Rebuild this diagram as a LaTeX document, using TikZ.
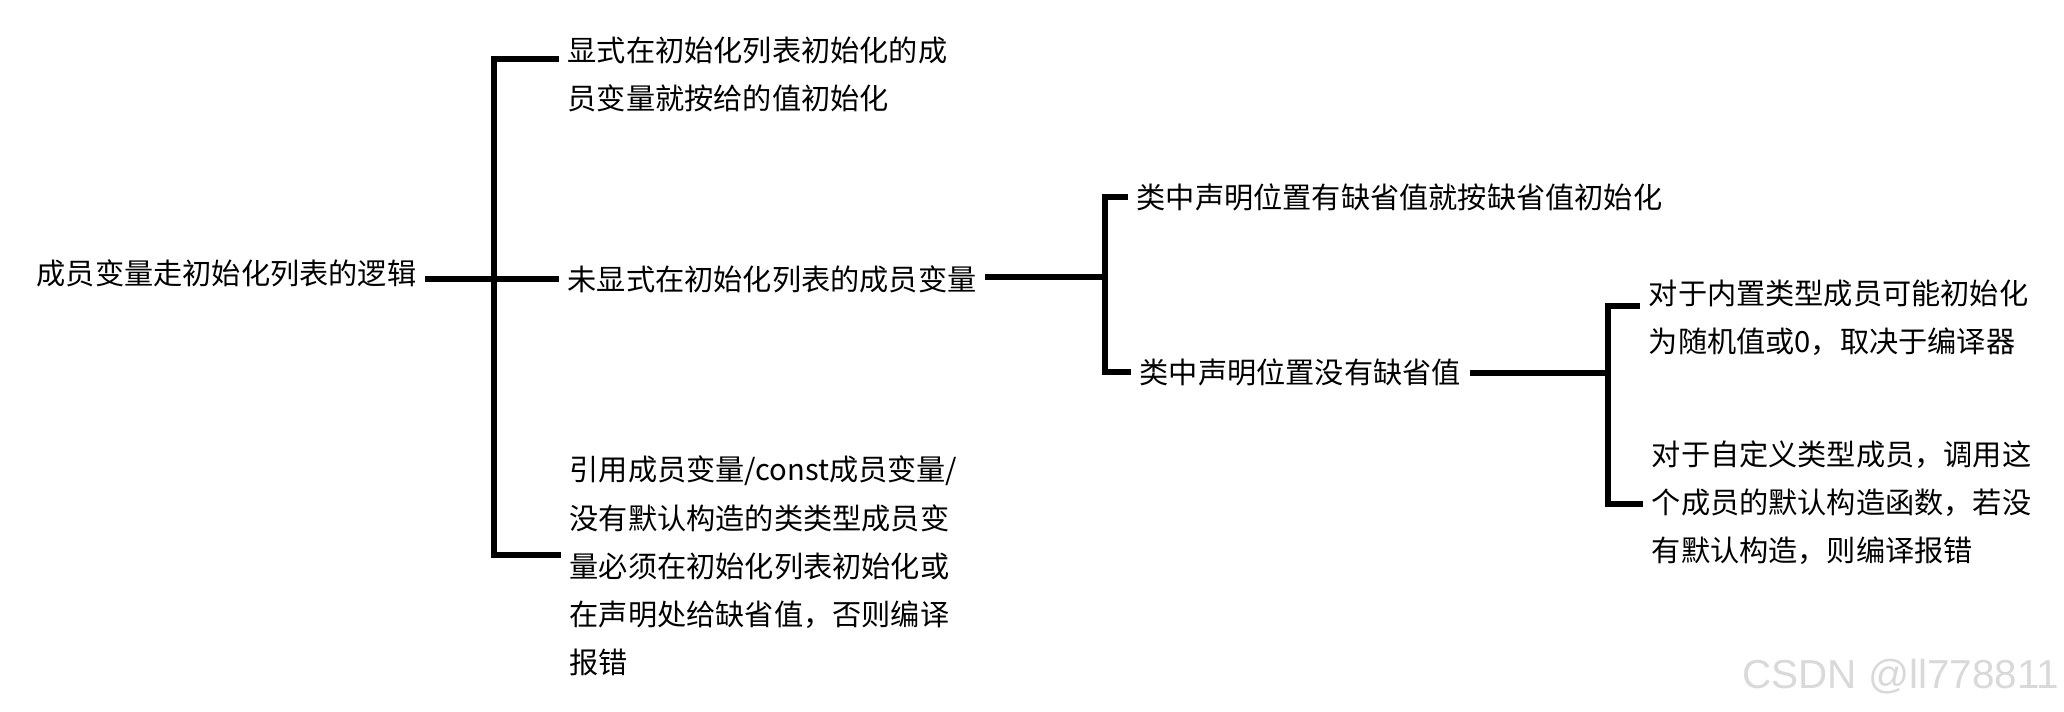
\documentclass[tikz,border=0pt]{standalone}
\usepackage{fontspec}
\setmainfont{Noto Sans CJK SC}
\newfontfamily\markfont{Liberation Sans}

\begin{document}
\begin{tikzpicture}[
        x=0.01cm,
        y=-0.01cm,
        item/.style={
            anchor=west,
            inner xsep=2.3pt,
            inner ysep=0pt,
            align=left,
            font=\fontsize{8.3pt}{13.7pt}\selectfont
        },
        branch/.style={
            line width=1.7pt,
            line join=miter
        }
    ]
    \useasboundingbox (0,0) rectangle (2064,711);

    % Nodos
    \node[item] (root) at (28,273) {成员变量走初始化列表的逻辑};

    \node[item] (a) at (559,74) {显式在初始化列表初始化的成\\员变量就按给的值初始化};

    \node[item] (b) at (559,279) {未显式在初始化列表的成员变量};

    \node[item] (c) at (561,566) {引用成员变量/const成员变量/\\没有默认构造的类类型成员变\\量必须在初始化列表初始化或\\在声明处给缺省值，否则编译\\报错};

    \node[item] (d) at (1128,197) {类中声明位置有缺省值就按缺省值初始化};

    \node[item] (e) at (1131,372) {类中声明位置没有缺省值};

    \node[item] (f) at (1640,318) {对于内置类型成员可能初始化\\为随机值或0，取决于编译器};

    \node[item] (g) at (1643,503) {对于自定义类型成员，调用这\\个成员的默认构造函数，若没\\有默认构造，则编译报错};

    % Puntos de unión
    \coordinate (j1) at (494,279);
    \coordinate (t1) at (494,59);
    \coordinate (b1) at (494,555);
    \coordinate (j2) at (1105,277);
    \coordinate (t2) at (1105,197);
    \coordinate (b2) at (1105,372);
    \coordinate (j3) at (1608,373);
    \coordinate (t3) at (1608,306);
    \coordinate (b3) at (1608,504);

    % Llaves
    \draw[branch] (root.east |- j1) -- (j1);
    \draw[branch] (t1 -| a.west) -- (t1) -- (b1) -- (b1 -| c.west);
    \draw[branch] (j1) -- (j1 -| b.west);

    \draw[branch] (b.east |- j2) -- (j2);
    \draw[branch] (t2 -| d.west) -- (t2) -- (b2) -- (b2 -| e.west);

    \draw[branch] (e.east |- j3) -- (j3);
    \draw[branch] (t3 -| f.west) -- (t3) -- (b3) -- (b3 -| g.west);

    % Marca de agua
    \node[
        anchor=east,
        inner sep=0pt,
        text=gray!30,
        font=\markfont\fontsize{11.5pt}{14pt}\selectfont
    ] (mark) at (2060,677) {CSDN @ll778811};

\end{tikzpicture}
\end{document}
